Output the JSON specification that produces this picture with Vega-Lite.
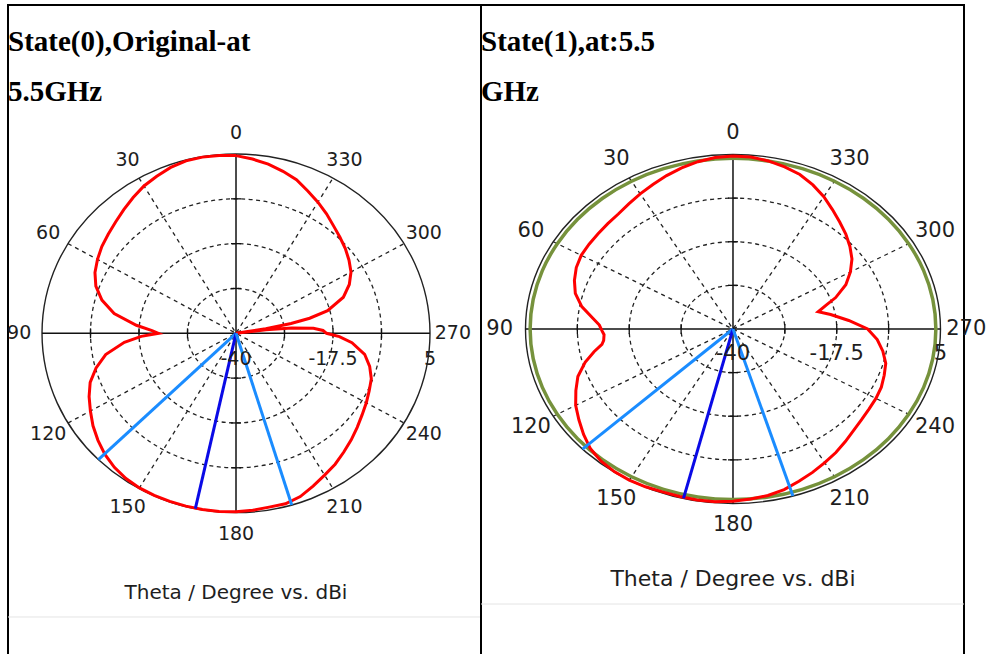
{
  "$schema": "https://vega.github.io/schema/vega-lite/v6.json",
  "padding": {"left": 6, "top": 4, "right": 0, "bottom": 0},
  "background": "white",
  "spacing": 0,
  "bounds": "flush",
  "resolve": {"scale": {"size": "independent"}},
  "config": {
    "view": {"stroke": "black", "strokeWidth": 2},
    "axis": {"disable": true},
    "legend": {"disable": true}
  },
  "datasets": {
    "redL": [{"theta":0,"dBi":4.6},{"theta":5,"dBi":4.8},{"theta":10,"dBi":4.9},{"theta":15,"dBi":4.8},{"theta":20,"dBi":4.3},{"theta":25,"dBi":3.5},{"theta":30,"dBi":2.7},{"theta":35,"dBi":1.6},{"theta":40,"dBi":0.5},{"theta":45,"dBi":-0.5},{"theta":50,"dBi":-1.3},{"theta":55,"dBi":-2.0},{"theta":60,"dBi":-2.9},{"theta":65,"dBi":-3.9},{"theta":70,"dBi":-5.4},{"theta":75,"dBi":-7.8},{"theta":80,"dBi":-11.3},{"theta":85,"dBi":-16.8},{"theta":88,"dBi":-20.5},{"theta":90,"dBi":-22.0},{"theta":92,"dBi":-18.0},{"theta":95,"dBi":-14.0},{"theta":100,"dBi":-9.3},{"theta":105,"dBi":-6.4},{"theta":110,"dBi":-4.0},{"theta":115,"dBi":-2.4},{"theta":120,"dBi":-1.0},{"theta":125,"dBi":0.5},{"theta":130,"dBi":1.8},{"theta":135,"dBi":3.0},{"theta":140,"dBi":3.9},{"theta":145,"dBi":4.5},{"theta":150,"dBi":4.8},{"theta":155,"dBi":4.9},{"theta":160,"dBi":4.9},{"theta":165,"dBi":4.9},{"theta":170,"dBi":4.9},{"theta":175,"dBi":4.9},{"theta":180,"dBi":4.8},{"theta":185,"dBi":4.6},{"theta":190,"dBi":4.3},{"theta":195,"dBi":4.3},{"theta":200,"dBi":3.6},{"theta":205,"dBi":2.3},{"theta":210,"dBi":1.1},{"theta":215,"dBi":0.1},{"theta":220,"dBi":-1.1},{"theta":225,"dBi":-2.2},{"theta":230,"dBi":-3.3},{"theta":235,"dBi":-4.3},{"theta":240,"dBi":-5.1},{"theta":245,"dBi":-5.9},{"theta":250,"dBi":-6.6},{"theta":255,"dBi":-7.9},{"theta":260,"dBi":-9.7},{"theta":265,"dBi":-13.0},{"theta":268,"dBi":-16.0},{"theta":270,"dBi":-19.0},{"theta":272,"dBi":-19.8},{"theta":274,"dBi":-22.0},{"theta":276,"dBi":-27.0},{"theta":277.5,"dBi":-33.0},{"theta":278.5,"dBi":-40.0},{"theta":279.5,"dBi":-33.0},{"theta":281,"dBi":-27.0},{"theta":282.5,"dBi":-22.5},{"theta":285,"dBi":-18.0},{"theta":290,"dBi":-13.5},{"theta":295,"dBi":-11.0},{"theta":300,"dBi":-9.2},{"theta":305,"dBi":-8.0},{"theta":310,"dBi":-6.9},{"theta":315,"dBi":-5.9},{"theta":320,"dBi":-4.8},{"theta":325,"dBi":-3.4},{"theta":330,"dBi":-2.0},{"theta":335,"dBi":-0.6},{"theta":340,"dBi":1.0},{"theta":345,"dBi":2.1},{"theta":350,"dBi":3.1},{"theta":355,"dBi":3.9},{"theta":360,"dBi":4.6}],
    "redR": [{"theta":0,"dBi":4.6},{"theta":5,"dBi":4.4},{"theta":10,"dBi":3.8},{"theta":15,"dBi":3.0},{"theta":20,"dBi":2.1},{"theta":25,"dBi":1.1},{"theta":30,"dBi":0.25},{"theta":35,"dBi":-0.6},{"theta":40,"dBi":-1.3},{"theta":45,"dBi":-1.6},{"theta":50,"dBi":-1.8},{"theta":55,"dBi":-1.9},{"theta":60,"dBi":-2.0},{"theta":65,"dBi":-2.5},{"theta":70,"dBi":-3.4},{"theta":75,"dBi":-4.6},{"theta":80,"dBi":-6.7},{"theta":85,"dBi":-9.6},{"theta":88,"dBi":-11.0},{"theta":91,"dBi":-11.6},{"theta":93,"dBi":-12.0},{"theta":96,"dBi":-11.8},{"theta":98,"dBi":-11.3},{"theta":101,"dBi":-9.3},{"theta":105,"dBi":-6.8},{"theta":110,"dBi":-4.2},{"theta":115,"dBi":-2.4},{"theta":120,"dBi":-0.6},{"theta":125,"dBi":0.8},{"theta":130,"dBi":2.3},{"theta":135,"dBi":3.7},{"theta":140,"dBi":4.5},{"theta":145,"dBi":4.9},{"theta":150,"dBi":5.0},{"theta":155,"dBi":4.9},{"theta":160,"dBi":4.7},{"theta":165,"dBi":4.7},{"theta":170,"dBi":4.8},{"theta":175,"dBi":4.7},{"theta":180,"dBi":4.4},{"theta":185,"dBi":4.0},{"theta":190,"dBi":3.6},{"theta":195,"dBi":2.9},{"theta":200,"dBi":1.8},{"theta":205,"dBi":0.8},{"theta":210,"dBi":-0.2},{"theta":215,"dBi":-1.1},{"theta":220,"dBi":-2.1},{"theta":225,"dBi":-3.0},{"theta":230,"dBi":-3.6},{"theta":235,"dBi":-4.0},{"theta":240,"dBi":-4.2},{"theta":245,"dBi":-4.5},{"theta":250,"dBi":-5.1},{"theta":255,"dBi":-5.7},{"theta":260,"dBi":-7.0},{"theta":265,"dBi":-8.6},{"theta":270,"dBi":-10.8},{"theta":275,"dBi":-14.8},{"theta":280,"dBi":-18.5},{"theta":283.5,"dBi":-21.0},{"theta":287,"dBi":-18.8},{"theta":290,"dBi":-16.3},{"theta":295,"dBi":-13.0},{"theta":300,"dBi":-10.6},{"theta":305,"dBi":-8.5},{"theta":310,"dBi":-6.9},{"theta":315,"dBi":-5.4},{"theta":320,"dBi":-4.0},{"theta":325,"dBi":-2.4},{"theta":330,"dBi":-0.6},{"theta":335,"dBi":1.0},{"theta":340,"dBi":2.4},{"theta":345,"dBi":3.3},{"theta":350,"dBi":4.0},{"theta":355,"dBi":4.5},{"theta":360,"dBi":4.6}],
    "greenR": [{"theta":0,"dBi":4.0},{"theta":10,"dBi":4.0},{"theta":20,"dBi":4.0},{"theta":30,"dBi":4.0},{"theta":40,"dBi":4.0},{"theta":50,"dBi":4.0},{"theta":60,"dBi":4.0},{"theta":70,"dBi":4.0},{"theta":80,"dBi":4.0},{"theta":90,"dBi":4.0},{"theta":100,"dBi":4.0},{"theta":110,"dBi":4.0},{"theta":120,"dBi":4.0},{"theta":130,"dBi":4.0},{"theta":140,"dBi":4.0},{"theta":150,"dBi":4.0},{"theta":160,"dBi":4.0},{"theta":170,"dBi":4.0},{"theta":180,"dBi":4.0},{"theta":190,"dBi":4.0},{"theta":200,"dBi":4.0},{"theta":210,"dBi":4.0},{"theta":220,"dBi":4.0},{"theta":230,"dBi":4.0},{"theta":240,"dBi":4.0},{"theta":250,"dBi":4.0},{"theta":260,"dBi":4.0},{"theta":270,"dBi":4.0},{"theta":280,"dBi":4.0},{"theta":290,"dBi":4.0},{"theta":300,"dBi":4.0},{"theta":310,"dBi":4.0},{"theta":320,"dBi":4.0},{"theta":330,"dBi":4.0},{"theta":340,"dBi":4.0},{"theta":350,"dBi":4.0}],
    "beamsL": [{"theta":134.8,"beam":"3dB"},{"theta":167.9,"beam":"main"},{"theta":196.7,"beam":"3dB"}],
    "beamsR": [{"theta":133.5,"beam":"3dB"},{"theta":166.2,"beam":"main"},{"theta":196.8,"beam":"3dB"}],
    "rings": [{"level":-28.75},{"level":-17.5},{"level":-6.25},{"level":5}],
    "spokes": [{"theta":30},{"theta":60},{"theta":120},{"theta":150}],
    "axes": [{"theta":0},{"theta":90}],
    "ticks": [{"theta":0,"level":-28.75},{"theta":0,"level":-17.5},{"theta":0,"level":-6.25},{"theta":90,"level":-28.75},{"theta":90,"level":-17.5},{"theta":90,"level":-6.25},{"theta":180,"level":-28.75},{"theta":180,"level":-17.5},{"theta":180,"level":-6.25},{"theta":270,"level":-28.75},{"theta":270,"level":-17.5},{"theta":270,"level":-6.25}],
    "angles": [{"theta":0},{"theta":30},{"theta":60},{"theta":90},{"theta":120},{"theta":150},{"theta":180},{"theta":210},{"theta":240},{"theta":270},{"theta":300},{"theta":330}],
    "radial": [{"level":-40,"label":"-40"},{"level":-17.5,"label":"-17.5"},{"level":5,"label":"5"}],
    "captions": [{"caption":"Theta / Degree vs. dBi"}]
  },
  "hconcat": [
    {
      "width": 473,
      "height": 660,
      "title": {"text": ["State(0),Original-at", "5.5GHz"], "anchor": "start", "frame": "group", "orient": "top", "offset": -125, "baseline": "alphabetic", "font": "Liberation Serif", "fontSize": 29, "fontWeight": "bold", "color": "black", "lineHeight": 50.5},
      "layer": [
        {
          "data": {"name": "rings"},
          "transform": [{"filter": "datum.level < 5"}, {"calculate": "datum.level + 40", "as": "r"}],
          "mark": {"type": "point", "shape": "M -1 0 A 1 0.9242 0 1 1 1 0 A 1 0.9242 0 1 1 -1 0 Z", "filled": false, "opacity": 1, "color": "#222222", "strokeWidth": 1.3, "strokeDash": [4, 3.5]},
          "encoding": {
            "x": {"datum": 0, "type": "quantitative", "scale": {"domain": [-52.89, 56.83], "nice": false, "zero": false}},
            "y": {"datum": 0, "type": "quantitative", "scale": {"domain": [-83.25, 82.40], "nice": false, "zero": false}},
            "size": {"field": "r", "type": "quantitative", "scale": {"type": "pow", "exponent": 2, "domain": [0, 45], "range": [0, 150544]}}
          }
        },
        {
          "data": {"name": "rings"},
          "transform": [{"filter": "datum.level == 5"}, {"calculate": "datum.level + 40", "as": "r"}],
          "mark": {"type": "point", "shape": "M -1 0 A 1 0.9242 0 1 1 1 0 A 1 0.9242 0 1 1 -1 0 Z", "filled": false, "opacity": 1, "color": "#222222", "strokeWidth": 1.4},
          "encoding": {
            "x": {"datum": 0, "type": "quantitative", "scale": {"domain": [-52.89, 56.83], "nice": false, "zero": false}},
            "y": {"datum": 0, "type": "quantitative", "scale": {"domain": [-83.25, 82.40], "nice": false, "zero": false}},
            "size": {"field": "r", "type": "quantitative", "scale": {"type": "pow", "exponent": 2, "domain": [0, 45], "range": [0, 150544]}}
          }
        },
        {
          "data": {"name": "spokes"},
          "transform": [{"calculate": "-45*sin(datum.theta*PI/180)", "as": "ax"}, {"calculate": "45*cos(datum.theta*PI/180)", "as": "ay"}, {"calculate": "-datum.ax", "as": "bx"}, {"calculate": "-datum.ay", "as": "by"}],
          "mark": {"type": "rule", "color": "#222222", "strokeWidth": 1.3, "strokeDash": [4, 4]},
          "encoding": {
            "x": {"field": "ax", "type": "quantitative", "scale": {"domain": [-52.89, 56.83], "nice": false, "zero": false}},
            "y": {"field": "ay", "type": "quantitative", "scale": {"domain": [-83.25, 82.40], "nice": false, "zero": false}},
            "x2": {"field": "bx"},
            "y2": {"field": "by"}
          }
        },
        {
          "data": {"name": "axes"},
          "transform": [{"calculate": "-45*sin(datum.theta*PI/180)", "as": "ax"}, {"calculate": "45*cos(datum.theta*PI/180)", "as": "ay"}, {"calculate": "-datum.ax", "as": "bx"}, {"calculate": "-datum.ay", "as": "by"}],
          "mark": {"type": "rule", "color": "#111111", "strokeWidth": 1.5},
          "encoding": {
            "x": {"field": "ax", "type": "quantitative", "scale": {"domain": [-52.89, 56.83], "nice": false, "zero": false}},
            "y": {"field": "ay", "type": "quantitative", "scale": {"domain": [-83.25, 82.40], "nice": false, "zero": false}},
            "x2": {"field": "bx"},
            "y2": {"field": "by"}
          }
        },
        {
          "data": {"name": "ticks"},
          "transform": [{"calculate": "datum.level + 40", "as": "r"}, {"calculate": "-datum.r*sin(datum.theta*PI/180)", "as": "px"}, {"calculate": "datum.r*cos(datum.theta*PI/180)", "as": "py"}],
          "mark": {"type": "point", "shape": "M -1 0 L 1 0", "size": 100, "filled": false, "opacity": 1, "color": "#111111", "strokeWidth": 1.3},
          "encoding": {
            "x": {"field": "px", "type": "quantitative", "scale": {"domain": [-52.89, 56.83], "nice": false, "zero": false}},
            "y": {"field": "py", "type": "quantitative", "scale": {"domain": [-83.25, 82.40], "nice": false, "zero": false}},
            "angle": {"field": "theta", "type": "quantitative", "scale": null}
          }
        },
        {
          "data": {"name": "redL"},
          "transform": [{"calculate": "max(datum.dBi + 40, 0)", "as": "r"}, {"calculate": "-datum.r*sin(datum.theta*PI/180)", "as": "px"}, {"calculate": "datum.r*cos(datum.theta*PI/180)", "as": "py"}],
          "mark": {"type": "line", "color": "#ff0000", "strokeWidth": 3},
          "encoding": {
            "x": {"field": "px", "type": "quantitative", "scale": {"domain": [-52.89, 56.83], "nice": false, "zero": false}},
            "y": {"field": "py", "type": "quantitative", "scale": {"domain": [-83.25, 82.40], "nice": false, "zero": false}},
            "order": {"field": "theta", "type": "quantitative"}
          }
        },
        {
          "data": {"name": "beamsL"},
          "transform": [{"calculate": "-45*sin(datum.theta*PI/180)", "as": "ax"}, {"calculate": "45*cos(datum.theta*PI/180)", "as": "ay"}, {"calculate": "0", "as": "ox"}],
          "mark": {"type": "rule", "strokeWidth": 3},
          "encoding": {
            "x": {"field": "ax", "type": "quantitative", "scale": {"domain": [-52.89, 56.83], "nice": false, "zero": false}},
            "y": {"field": "ay", "type": "quantitative", "scale": {"domain": [-83.25, 82.40], "nice": false, "zero": false}},
            "x2": {"field": "ox"},
            "y2": {"field": "ox"},
            "color": {"field": "beam", "type": "nominal", "scale": {"domain": ["main", "3dB"], "range": ["#0a0ae6", "#1a8cff"]}, "legend": null}
          }
        },
        {
          "data": {"name": "angles"},
          "transform": [{"calculate": "-50.3*sin(datum.theta*PI/180)", "as": "px"}, {"calculate": "50.3*cos(datum.theta*PI/180)", "as": "py"}],
          "mark": {"type": "text", "font": "DejaVu Sans", "fontSize": 19, "color": "#1e1e1e", "align": "center", "baseline": "middle"},
          "encoding": {
            "x": {"field": "px", "type": "quantitative", "scale": {"domain": [-52.89, 56.83], "nice": false, "zero": false}},
            "y": {"field": "py", "type": "quantitative", "scale": {"domain": [-83.25, 82.40], "nice": false, "zero": false}},
            "text": {"field": "theta", "type": "nominal"}
          }
        },
        {
          "data": {"name": "radial"},
          "transform": [{"calculate": "datum.level + 40", "as": "r"}, {"calculate": "0", "as": "oy"}],
          "mark": {"type": "text", "font": "DejaVu Sans", "fontSize": 19, "color": "#1e1e1e", "align": "center", "baseline": "middle", "dy": 26},
          "encoding": {
            "x": {"field": "r", "type": "quantitative", "scale": {"domain": [-52.89, 56.83], "nice": false, "zero": false}},
            "y": {"field": "oy", "type": "quantitative", "scale": {"domain": [-83.25, 82.40], "nice": false, "zero": false}},
            "text": {"field": "label", "type": "nominal"}
          }
        },
        {
          "data": {"name": "captions"},
          "mark": {"type": "text", "font": "DejaVu Sans", "fontSize": 20, "color": "#1e1e1e", "align": "center", "baseline": "middle"},
          "encoding": {
            "x": {"datum": 0, "type": "quantitative", "scale": {"domain": [-52.89, 56.83], "nice": false, "zero": false}},
            "y": {"datum": -65.18, "type": "quantitative", "scale": {"domain": [-83.25, 82.40], "nice": false, "zero": false}},
            "text": {"field": "caption", "type": "nominal"}
          }
        },
        {
          "data": {"name": "captions"},
          "mark": {"type": "rule", "color": "#e4e4e4", "strokeWidth": 1},
          "encoding": {
            "y": {"datum": -71.2, "type": "quantitative", "scale": {"domain": [-83.25, 82.40], "nice": false, "zero": false}}
          }
        }
      ]
    },
    {
      "width": 483,
      "height": 660,
      "title": {"text": ["State(1),at:5.5", "GHz"], "anchor": "start", "frame": "group", "orient": "top", "offset": -125, "baseline": "alphabetic", "font": "Liberation Serif", "fontSize": 29, "fontWeight": "bold", "color": "black", "lineHeight": 50.5},
      "layer": [
        {
          "data": {"name": "rings"},
          "transform": [{"filter": "datum.level < 5"}, {"calculate": "datum.level + 40", "as": "r"}],
          "mark": {"type": "point", "shape": "M -1 0 A 1 0.841 0 1 1 1 0 A 1 0.841 0 1 1 -1 0 Z", "filled": false, "opacity": 1, "color": "#222222", "strokeWidth": 1.3, "strokeDash": [4, 3.5]},
          "encoding": {
            "x": {"datum": 0, "type": "quantitative", "scale": {"domain": [-54.65, 50.10], "nice": false, "zero": false}},
            "y": {"datum": 0, "type": "quantitative", "scale": {"domain": [-86.65, 83.55], "nice": false, "zero": false}},
            "size": {"field": "r", "type": "quantitative", "scale": {"type": "pow", "exponent": 2, "domain": [0, 45], "range": [0, 172225]}}
          }
        },
        {
          "data": {"name": "rings"},
          "transform": [{"filter": "datum.level == 5"}, {"calculate": "datum.level + 40", "as": "r"}],
          "mark": {"type": "point", "shape": "M -1 0 A 1 0.841 0 1 1 1 0 A 1 0.841 0 1 1 -1 0 Z", "filled": false, "opacity": 1, "color": "#222222", "strokeWidth": 1.4},
          "encoding": {
            "x": {"datum": 0, "type": "quantitative", "scale": {"domain": [-54.65, 50.10], "nice": false, "zero": false}},
            "y": {"datum": 0, "type": "quantitative", "scale": {"domain": [-86.65, 83.55], "nice": false, "zero": false}},
            "size": {"field": "r", "type": "quantitative", "scale": {"type": "pow", "exponent": 2, "domain": [0, 45], "range": [0, 172225]}}
          }
        },
        {
          "data": {"name": "spokes"},
          "transform": [{"calculate": "-45*sin(datum.theta*PI/180)", "as": "ax"}, {"calculate": "45*cos(datum.theta*PI/180)", "as": "ay"}, {"calculate": "-datum.ax", "as": "bx"}, {"calculate": "-datum.ay", "as": "by"}],
          "mark": {"type": "rule", "color": "#222222", "strokeWidth": 1.3, "strokeDash": [4, 4]},
          "encoding": {
            "x": {"field": "ax", "type": "quantitative", "scale": {"domain": [-54.65, 50.10], "nice": false, "zero": false}},
            "y": {"field": "ay", "type": "quantitative", "scale": {"domain": [-86.65, 83.55], "nice": false, "zero": false}},
            "x2": {"field": "bx"},
            "y2": {"field": "by"}
          }
        },
        {
          "data": {"name": "axes"},
          "transform": [{"calculate": "-45*sin(datum.theta*PI/180)", "as": "ax"}, {"calculate": "45*cos(datum.theta*PI/180)", "as": "ay"}, {"calculate": "-datum.ax", "as": "bx"}, {"calculate": "-datum.ay", "as": "by"}],
          "mark": {"type": "rule", "color": "#111111", "strokeWidth": 1.5},
          "encoding": {
            "x": {"field": "ax", "type": "quantitative", "scale": {"domain": [-54.65, 50.10], "nice": false, "zero": false}},
            "y": {"field": "ay", "type": "quantitative", "scale": {"domain": [-86.65, 83.55], "nice": false, "zero": false}},
            "x2": {"field": "bx"},
            "y2": {"field": "by"}
          }
        },
        {
          "data": {"name": "ticks"},
          "transform": [{"calculate": "datum.level + 40", "as": "r"}, {"calculate": "-datum.r*sin(datum.theta*PI/180)", "as": "px"}, {"calculate": "datum.r*cos(datum.theta*PI/180)", "as": "py"}],
          "mark": {"type": "point", "shape": "M -1 0 L 1 0", "size": 100, "filled": false, "opacity": 1, "color": "#111111", "strokeWidth": 1.3},
          "encoding": {
            "x": {"field": "px", "type": "quantitative", "scale": {"domain": [-54.65, 50.10], "nice": false, "zero": false}},
            "y": {"field": "py", "type": "quantitative", "scale": {"domain": [-86.65, 83.55], "nice": false, "zero": false}},
            "angle": {"field": "theta", "type": "quantitative", "scale": null}
          }
        },
        {
          "data": {"name": "greenR"},
          "transform": [{"calculate": "max(datum.dBi + 40, 0)", "as": "r"}, {"calculate": "-datum.r*sin(datum.theta*PI/180)", "as": "px"}, {"calculate": "datum.r*cos(datum.theta*PI/180)", "as": "py"}],
          "mark": {"type": "line", "color": "#76923c", "strokeWidth": 3.5, "interpolate": "cardinal-closed"},
          "encoding": {
            "x": {"field": "px", "type": "quantitative", "scale": {"domain": [-54.65, 50.10], "nice": false, "zero": false}},
            "y": {"field": "py", "type": "quantitative", "scale": {"domain": [-86.65, 83.55], "nice": false, "zero": false}},
            "order": {"field": "theta", "type": "quantitative"}
          }
        },
        {
          "data": {"name": "redR"},
          "transform": [{"calculate": "max(datum.dBi + 40, 0)", "as": "r"}, {"calculate": "-datum.r*sin(datum.theta*PI/180)", "as": "px"}, {"calculate": "datum.r*cos(datum.theta*PI/180)", "as": "py"}],
          "mark": {"type": "line", "color": "#ff0000", "strokeWidth": 3},
          "encoding": {
            "x": {"field": "px", "type": "quantitative", "scale": {"domain": [-54.65, 50.10], "nice": false, "zero": false}},
            "y": {"field": "py", "type": "quantitative", "scale": {"domain": [-86.65, 83.55], "nice": false, "zero": false}},
            "order": {"field": "theta", "type": "quantitative"}
          }
        },
        {
          "data": {"name": "beamsR"},
          "transform": [{"calculate": "-45*sin(datum.theta*PI/180)", "as": "ax"}, {"calculate": "45*cos(datum.theta*PI/180)", "as": "ay"}, {"calculate": "0", "as": "ox"}],
          "mark": {"type": "rule", "strokeWidth": 3},
          "encoding": {
            "x": {"field": "ax", "type": "quantitative", "scale": {"domain": [-54.65, 50.10], "nice": false, "zero": false}},
            "y": {"field": "ay", "type": "quantitative", "scale": {"domain": [-86.65, 83.55], "nice": false, "zero": false}},
            "x2": {"field": "ox"},
            "y2": {"field": "ox"},
            "color": {"field": "beam", "type": "nominal", "scale": {"domain": ["main", "3dB"], "range": ["#0a0ae6", "#1a8cff"]}, "legend": null}
          }
        },
        {
          "data": {"name": "angles"},
          "transform": [{"calculate": "-50.6*sin(datum.theta*PI/180)", "as": "px"}, {"calculate": "50.6*cos(datum.theta*PI/180)", "as": "py"}],
          "mark": {"type": "text", "font": "DejaVu Sans", "fontSize": 21, "color": "#1e1e1e", "align": "center", "baseline": "middle"},
          "encoding": {
            "x": {"field": "px", "type": "quantitative", "scale": {"domain": [-54.65, 50.10], "nice": false, "zero": false}},
            "y": {"field": "py", "type": "quantitative", "scale": {"domain": [-86.65, 83.55], "nice": false, "zero": false}},
            "text": {"field": "theta", "type": "nominal"}
          }
        },
        {
          "data": {"name": "radial"},
          "transform": [{"calculate": "datum.level + 40", "as": "r"}, {"calculate": "0", "as": "oy"}],
          "mark": {"type": "text", "font": "DejaVu Sans", "fontSize": 21, "color": "#1e1e1e", "align": "center", "baseline": "middle", "dy": 25},
          "encoding": {
            "x": {"field": "r", "type": "quantitative", "scale": {"domain": [-54.65, 50.10], "nice": false, "zero": false}},
            "y": {"field": "oy", "type": "quantitative", "scale": {"domain": [-86.65, 83.55], "nice": false, "zero": false}},
            "text": {"field": "label", "type": "nominal"}
          }
        },
        {
          "data": {"name": "captions"},
          "mark": {"type": "text", "font": "DejaVu Sans", "fontSize": 22, "color": "#1e1e1e", "align": "center", "baseline": "middle"},
          "encoding": {
            "x": {"datum": 0, "type": "quantitative", "scale": {"domain": [-54.65, 50.10], "nice": false, "zero": false}},
            "y": {"datum": -64.47, "type": "quantitative", "scale": {"domain": [-86.65, 83.55], "nice": false, "zero": false}},
            "text": {"field": "caption", "type": "nominal"}
          }
        },
        {
          "data": {"name": "captions"},
          "mark": {"type": "rule", "color": "#e4e4e4", "strokeWidth": 1},
          "encoding": {
            "y": {"datum": -70.92, "type": "quantitative", "scale": {"domain": [-86.65, 83.55], "nice": false, "zero": false}}
          }
        }
      ]
    }
  ]
}
